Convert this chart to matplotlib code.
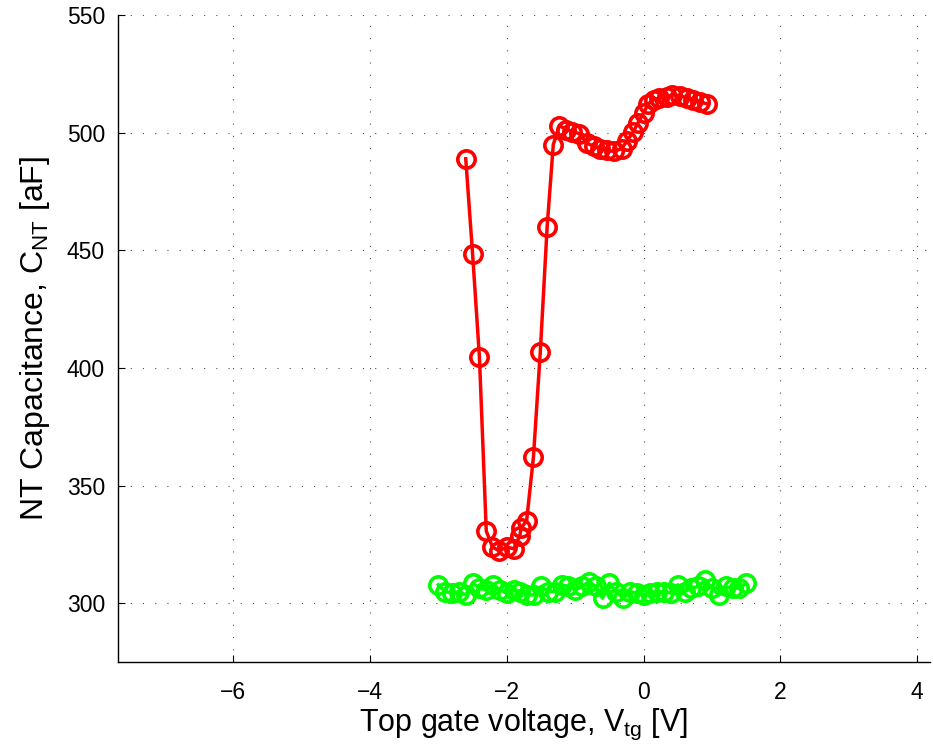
import matplotlib
matplotlib.use("Agg")
import matplotlib.pyplot as plt
import numpy as np

plt.rcParams['font.family'] = ['Liberation Sans', 'DejaVu Sans']
plt.rcParams['mathtext.fontset'] = 'custom'
plt.rcParams['mathtext.rm'] = 'Liberation Sans'
plt.rcParams['mathtext.it'] = 'Liberation Sans'

# red trace: gate sweep on the tube
red_v = [-2.60, -2.50, -2.40, -2.30, -2.21, -2.11, -2.00, -1.90, -1.81, -1.79,
         -1.71, -1.61, -1.51, -1.41, -1.32, -1.23, -1.13, -1.04, -0.94, -0.82,
         -0.72, -0.63, -0.53, -0.43, -0.32, -0.24, -0.15, -0.08, 0.00, 0.07,
         0.15, 0.23, 0.34, 0.42, 0.53, 0.63, 0.72, 0.82, 0.92]
red_c = [488.9, 448.5, 404.7, 330.7, 323.9, 322.2, 323.9, 323.1, 328.6, 332.0,
         335.0, 362.2, 406.8, 460.0, 494.9, 503.0, 501.3, 500.4, 499.6, 495.4,
         494.1, 493.2, 492.4, 492.0, 493.2, 496.6, 500.4, 504.2, 508.4, 512.3,
         514.0, 514.8, 515.2, 516.1, 515.7, 514.8, 514.0, 513.1, 512.3]

# green trace: reference sweep
green_v = [round(-3.0 + 0.1 * i, 1) for i in range(46)]
green_c = [307.8, 304.9, 304.3, 304.9, 303.5, 308.5, 306.4, 305.7, 307.8, 305.7,
           304.3, 305.7, 304.9, 303.5, 303.5, 307.1, 304.9, 304.9, 307.8, 307.1,
           305.7, 307.1, 309.2, 307.1, 302.1, 308.5, 304.9, 302.1, 304.9, 304.3,
           303.5, 304.3, 304.9, 304.9, 304.3, 307.8, 304.9, 306.4, 307.1, 309.9,
           306.4, 303.5, 307.1, 306.4, 306.4, 308.5]

fig = plt.figure(figsize=(9.33, 7.48), dpi=100)
ax = fig.add_axes([0.126, 0.115, 0.871, 0.865])

ax.plot(green_v, green_c, '-o', color=(0, 1, 0), lw=2.5, ms=12.5,
        mfc='none', mew=2.6, clip_on=False)
ax.plot(red_v, red_c, '-o', color=(1, 0, 0), lw=2.5, ms=12.5,
        mfc='none', mew=2.6, clip_on=False)

ax.set_xlim(-7.69, 4.19)
ax.set_ylim(275, 550)
ax.set_xticks([-6, -4, -2, 0, 2, 4])
ax.set_yticks([300, 350, 400, 450, 500, 550])
ax.set_xticklabels(['\u22126', '\u22124', '\u22122', '0', '2', '4'])

ax.grid(True, color='#505050', linestyle=(0, (1, 10)), linewidth=0.8)
ax.set_axisbelow(True)

ax.spines['top'].set_visible(False)
ax.spines['right'].set_visible(False)
ax.spines['left'].set_linewidth(1.0)
ax.spines['bottom'].set_linewidth(1.0)
ax.tick_params(axis='both', direction='in', length=5, width=0.8, labelsize=16.5,
               top=False, right=False)
ax.tick_params(axis='x', pad=14)
ax.tick_params(axis='y', pad=9)

ax.set_xlabel(r'Top gate voltage, V$_{\mathrm{tg}}$ [V]', fontsize=22, labelpad=2)
ax.set_ylabel(r'NT Capacitance, C$_{\mathrm{NT}}$ [aF]', fontsize=23, labelpad=11)

fig.savefig('out.png', dpi=100)
